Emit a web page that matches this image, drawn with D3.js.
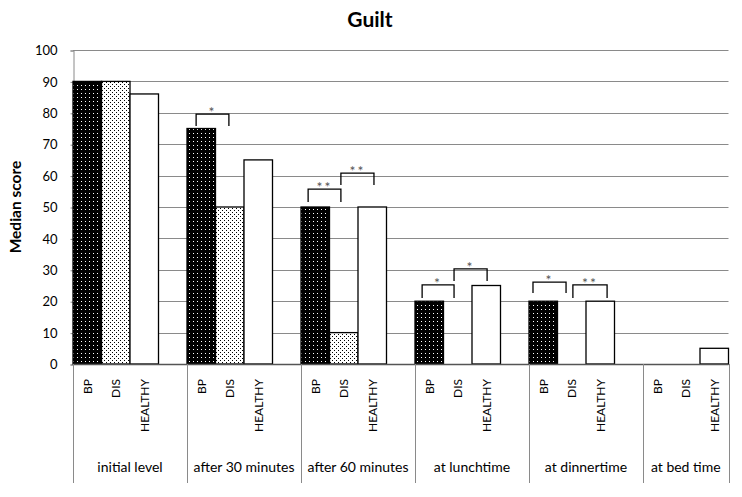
<!DOCTYPE html>
<html>
<head>
<meta charset="utf-8">
<script src="https://cdn.jsdelivr.net/npm/d3@7"></script>
<style>
  body { margin: 0; background: #fff; }
  text { font-family: Lato, "Open Sans", sans-serif; }
</style>
</head>
<body>
<svg id="chart" width="742" height="497"></svg>
<script>
// chart data
var groups = ["initial level", "after 30 minutes", "after 60 minutes", "at lunchtime", "at dinnertime", "at bed time"];
var series = ["BP", "DIS", "HEALTHY"];
var bpValues = [90, 75, 50, 20, 20, 0];
var disValues = [90, 50, 10, 0, 0, 0];
var healthyValues = [86, 65, 50, 25, 20, 5];
var yTicks = [0, 10, 20, 30, 40, 50, 60, 70, 80, 90, 100];
// significance brackets: from/to in bar-slot units inside the group, top/foot in score units
var brackets = [
  { group: "after 30 minutes", from: 0.32, to: 1.47, top: 79.6, foot: 75.8, label: "*" },
  { group: "after 60 minutes", from: 0.25, to: 1.40, top: 55.7, foot: 51.6, label: "**" },
  { group: "after 60 minutes", from: 1.40, to: 2.56, top: 60.8, foot: 57.0, label: "**" },
  { group: "at lunchtime", from: 0.25, to: 1.37, top: 25.2, foot: 21.0, label: "*" },
  { group: "at lunchtime", from: 1.37, to: 2.53, top: 30.3, foot: 26.4, label: "*" },
  { group: "at dinnertime", from: 0.14, to: 1.30, top: 26.1, foot: 22.6, label: "*" },
  { group: "at dinnertime", from: 1.54, to: 2.74, top: 25.2, foot: 21.0, label: "**" }
];

var svg = d3.select("#chart");
var plotLeft = 73, plotTop = 50, plotBottom = 364, groupW = 114;
var slot = groupW / 4;

var x = d3.scaleBand().domain(groups).range([plotLeft, plotLeft + groupW * groups.length]);
var xs = d3.scaleBand().domain(series).range([0, slot * 3]);
var y = d3.scaleLinear().domain([0, 100]).range([plotBottom, plotTop]);
var plotRight = x(groups[groups.length - 1]) + slot * 3;

// patterns
var defs = svg.append("defs");
var p1 = defs.append("pattern").attr("id", "pBP").attr("patternUnits", "userSpaceOnUse")
  .attr("width", 4).attr("height", 4);
p1.append("rect").attr("width", 4).attr("height", 4).attr("fill", "#000");
p1.append("rect").attr("x", 1).attr("y", 1).attr("width", 1).attr("height", 1).attr("fill", "#fff");
var p2 = defs.append("pattern").attr("id", "pDIS").attr("patternUnits", "userSpaceOnUse")
  .attr("width", 4).attr("height", 4);
p2.append("rect").attr("width", 4).attr("height", 4).attr("fill", "#fff");
p2.append("rect").attr("x", 0).attr("y", 0).attr("width", 1).attr("height", 1).attr("fill", "#000");
p2.append("rect").attr("x", 2).attr("y", 2).attr("width", 1).attr("height", 1).attr("fill", "#000");
var fills = { "BP": "url(#pBP)", "DIS": "url(#pDIS)", "HEALTHY": "#fff" };

// title
svg.append("text").attr("x", 370).attr("y", 27).attr("text-anchor", "middle")
  .style("font-size", "21px").style("font-weight", "bold").text("Guilt");

// y label
svg.append("text").attr("transform", "translate(21," + ((plotTop + plotBottom) / 2) + ") rotate(-90)")
  .attr("text-anchor", "middle").style("font-size", "15.5px").style("font-weight", "bold")
  .text("Median score");

// grid lines
svg.append("g").selectAll("line").data(yTicks.filter(function(d) { return d > 0; })).enter()
  .append("line").attr("x1", plotLeft).attr("x2", plotRight)
  .attr("y1", function(d) { return Math.round(y(d)) + 0.5; })
  .attr("y2", function(d) { return Math.round(y(d)) + 0.5; })
  .attr("stroke", "#8a8a8a").attr("stroke-width", 1);

// y axis
var yAxis = svg.append("g").attr("transform", "translate(" + (plotLeft + 0.5) + ",0.5)")
  .call(d3.axisLeft(y).tickValues(yTicks).tickSize(3).tickPadding(13));
yAxis.select(".domain").attr("stroke", "#8a8a8a");
yAxis.selectAll(".tick line").attr("stroke", "#8a8a8a");
yAxis.selectAll("text").style("font-size", "13px").style("font-family", "Lato, sans-serif").attr("fill", "#000");

// bars
var rows = [];
groups.forEach(function(g, i) {
  rows.push({ group: g, s: "BP", v: bpValues[i] });
  rows.push({ group: g, s: "DIS", v: disValues[i] });
  rows.push({ group: g, s: "HEALTHY", v: healthyValues[i] });
});
svg.append("g").selectAll("rect").data(rows).enter().append("rect")
  .attr("x", function(d) { return x(d.group) + xs(d.s); })
  .attr("y", function(d) { return y(d.v); })
  .attr("width", xs.bandwidth())
  .attr("height", function(d) { return y(0) - y(d.v); })
  .attr("fill", function(d) { return fills[d.s]; })
  .attr("stroke", "#000").attr("stroke-width", 1.3);

// category axis
svg.append("line").attr("x1", plotLeft).attr("x2", plotRight).attr("y1", plotBottom + 0.5).attr("y2", plotBottom + 0.5)
  .attr("stroke", "#555").attr("stroke-width", 1.3);
var seps = groups.map(function(g) { return x(g); }).concat([plotRight]);
svg.append("g").selectAll("line").data(seps).enter().append("line")
  .attr("x1", function(d) { return Math.round(d) + 0.5; })
  .attr("x2", function(d) { return Math.round(d) + 0.5; })
  .attr("y1", plotBottom).attr("y2", 483)
  .attr("stroke", "#8a8a8a").attr("stroke-width", 1);

svg.append("g").selectAll("text").data(rows).enter().append("text")
  .attr("transform", function(d) {
    return "translate(" + (x(d.group) + xs(d.s) + xs.bandwidth() / 2) + ",379) rotate(-90)";
  })
  .attr("text-anchor", "end").attr("dominant-baseline", "central")
  .style("font-size", "12px").text(function(d) { return d.s; });

svg.append("g").selectAll("text").data(groups).enter().append("text")
  .attr("x", function(d) { return x(d) + Math.min(groupW, plotRight - x(d)) / 2; })
  .attr("y", 472).attr("text-anchor", "middle")
  .style("font-size", "14px").text(function(d) { return d; });

// significance brackets
var bg = svg.append("g");
brackets.forEach(function(b) {
  var x1 = x(b.group) + b.from * slot, x2 = x(b.group) + b.to * slot;
  bg.append("path")
    .attr("d", "M" + x1 + "," + y(b.foot) + "V" + y(b.top) + "H" + x2 + "V" + y(b.foot))
    .attr("fill", "none").attr("stroke", "#000").attr("stroke-width", 1.3);
  bg.append("text").attr("x", (x1 + x2) / 2).attr("y", y(b.top) + 3)
    .attr("text-anchor", "middle").attr("fill", "#555")
    .style("font-size", "14px").style("letter-spacing", "2px").text(b.label);
});
</script>
</body>
</html>
